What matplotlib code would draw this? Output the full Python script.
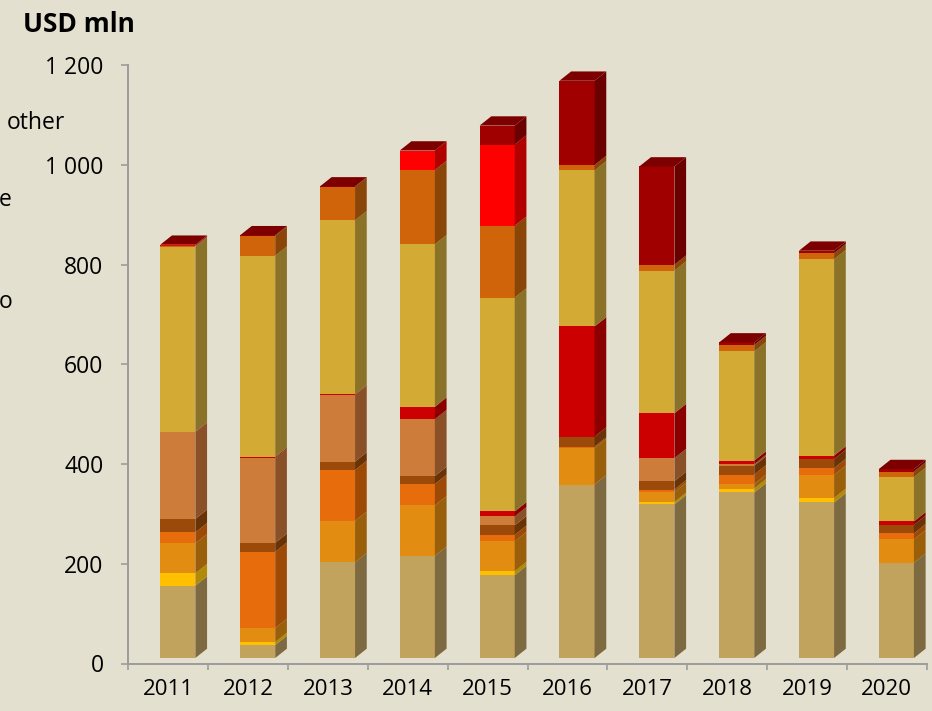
import matplotlib
matplotlib.use("Agg")
import matplotlib.pyplot as plt
import numpy as np
from matplotlib import transforms
from matplotlib.patches import Polygon
from matplotlib.ticker import FuncFormatter, FixedLocator

# ---------------- data (USD mln), stacked bottom -> top ----------------
years = ["2011", "2012", "2013", "2014", "2015", "2016", "2017", "2018", "2019", "2020"]

s_tan        = [145,  26, 192, 205, 166, 348, 308, 332, 312, 191]
s_yellow     = [ 25,   6,   0,   0,   8,   0,   5,   8,   9,   0]
s_orange1    = [ 60,  28,  83, 101,  60,  73,  20,   9,  46,  47]
s_orange2    = [ 22, 153, 102,  43,  13,   3,   5,  19,  14,  12]
s_brown      = [ 27,  18,  17,  16,  19,  20,  17,  18,  18,  17]
s_copper     = [174, 170, 134, 114,  18,   0,  46,   3,   0,   0]
s_red        = [  1,   2,   1,  25,  10, 221,  90,   7,   7,   7]
s_goldenrod  = [371, 404, 349, 326, 429, 313, 286, 219, 394,  89]
s_darkorange = [  1,  40,  67, 149, 144,  11,  12,  13,  12,  11]
s_brightred  = [  2,   0,   0,  39, 163,   0,   0,   0,   0,   0]
s_other      = [  1,   1,   1,   0,  38, 169, 197,   5,   5,   5]

series = [s_tan, s_yellow, s_orange1, s_orange2, s_brown, s_copper,
          s_red, s_goldenrod, s_darkorange, s_brightred, s_other]

front_colors = ["#C2A35E", "#FFC000", "#E28C12", "#E66C0C", "#9B4A0A", "#CD7C3A",
                "#CC0000", "#D3AB34", "#D0640A", "#FF0000", "#A00000"]
side_colors  = ["#7E6A40", "#B08A08", "#9A5F0A", "#9E4A07", "#6A3306", "#8A5028",
                "#8A0000", "#8A7228", "#8A4508", "#B00000", "#6A0000"]
top_color = "#7C0000"

y_ticks = [0, 200, 400, 600, 800, 1000, 1200]

# ---------------- figure ----------------
W, H, DPI = 932, 711, 100
BG = "#E4E0CF"
AXC = "#9C9C9C"
plt.rcParams['font.family'] = ['Open Sans', 'DejaVu Sans']

fig = plt.figure(figsize=(W / DPI, H / DPI), dpi=DPI, facecolor=BG)
ax = fig.add_axes([128.3 / W, 1 - 663.5 / H, (926.7 - 128.3) / W, (663.5 - 65.3) / H])
ax.set_facecolor(BG)
n = len(years)
ax.set_xlim(0, n)
ax.set_ylim(0, 1200)

# geometry of the pseudo-3D columns (in pixels)
BAR_OFF, BAR_W = -0.10, 0.44      # front face relative to category centre (category units)
DX_PX, DY_PX, LIFT_PX = 11.7, 9.3, 5.5

bb = ax.get_window_extent()
dxd = DX_PX / (bb.width / n)
dyd = DY_PX / (bb.height / 1200)
trans = ax.transData + transforms.ScaledTranslation(0, LIFT_PX / DPI, fig.dpi_scale_trans)

centers = np.arange(n) + 0.5
lefts = centers + BAR_OFF
bottoms = np.zeros(n)
for vals, fc, sc in zip(series, front_colors, side_colors):
    vals = np.asarray(vals, dtype=float)
    bars = ax.bar(lefts, vals, BAR_W, bottom=bottoms, align='edge', color=fc,
                  linewidth=0, zorder=3)
    for p in bars:
        p.set_transform(trans)
        p.set_clip_on(False)
    for xl, b, v in zip(lefts, bottoms, vals):
        if v <= 0:
            continue
        xr = xl + BAR_W
        side = Polygon([(xr, b), (xr, b + v), (xr + dxd, b + v + dyd), (xr + dxd, b + dyd)],
                       closed=True, facecolor=sc, edgecolor='none', transform=trans,
                       zorder=3, clip_on=False)
        ax.add_patch(side)
    bottoms = bottoms + vals

for xl, t in zip(lefts, bottoms):
    xr = xl + BAR_W
    top = Polygon([(xl, t), (xr, t), (xr + dxd, t + dyd), (xl + dxd, t + dyd)],
                  closed=True, facecolor=top_color, edgecolor='none', transform=trans,
                  zorder=4, clip_on=False)
    ax.add_patch(top)

# ---------------- axes styling ----------------
for s in ["top", "right"]:
    ax.spines[s].set_visible(False)
for s in ["left", "bottom"]:
    ax.spines[s].set_color(AXC)
    ax.spines[s].set_linewidth(1.4)

ax.yaxis.set_major_locator(FixedLocator(y_ticks))
ax.yaxis.set_major_formatter(FuncFormatter(lambda v, p: f"{v:,.0f}".replace(",", " ")))
ax.tick_params(axis='y', direction='out', length=4.8, width=1.2, color=AXC,
               labelsize=16.5, labelcolor='black', pad=13)

ax.xaxis.set_major_locator(FixedLocator(np.arange(n + 1)))
ax.xaxis.set_major_formatter(FuncFormatter(lambda v, p: ""))
ax.xaxis.set_minor_locator(FixedLocator(centers))
ax.set_xticks(centers, years, minor=True)
ax.tick_params(axis='x', which='major', direction='out', length=4, width=1.2, color=AXC)
ax.tick_params(axis='x', which='minor', length=0, labelsize=16, labelcolor='black', pad=11.5)

# ---------------- texts ----------------
fig.text(23 / W, 1 - 24 / H, "USD mln", fontsize=19, fontweight='bold', va='center', ha='left')
fig.text(7 / W, 1 - 123 / H, "other", fontsize=16.5, va='center', ha='left')
fig.text(-1 / W, 1 - 200 / H, "e", fontsize=16.5, va='center', ha='left')
fig.text(-1 / W, 1 - 302 / H, "o", fontsize=16.5, va='center', ha='left')

fig.savefig("out.png", dpi=DPI, facecolor=BG)
